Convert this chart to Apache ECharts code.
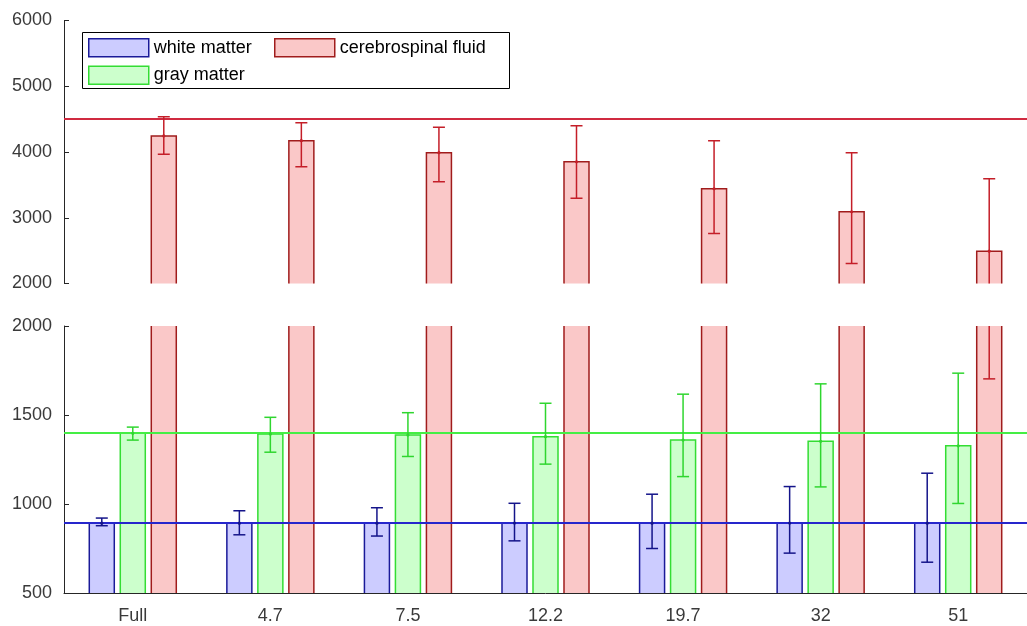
<!DOCTYPE html>
<html>
<head>
<meta charset="utf-8">
<title>Tissue values by level</title>
<script src="https://cdn.jsdelivr.net/npm/echarts@6/dist/echarts.min.js"></script>
<style>
  html, body { margin: 0; padding: 0; background: #ffffff; }
  #chart { width: 1027px; height: 626px; }
</style>
</head>
<body>
<div id="chart"></div>
<script>
// Group labels along the x axis
const categories = ['Full', '4.7', '7.5', '12.2', '19.7', '32', '51'];

// White matter: bar height and error-bar ends
const wmMean = [892, 892, 892, 893, 892, 893, 892];
const wmLow  = [878, 827, 820, 793, 750, 724, 673];
const wmHigh = [921, 962, 979, 1004, 1055, 1098, 1173];

// Gray matter
const gmMean = [1397, 1393, 1388, 1378, 1359, 1352, 1327];
const gmLow  = [1359, 1291, 1267, 1224, 1154, 1096, 1003];
const gmHigh = [1432, 1487, 1513, 1566, 1617, 1675, 1735];

// Cerebrospinal fluid
const csfMean = [4244, 4172, 3989, 3852, 3441, 3091, 2492];
const csfLow  = [3965, 3776, 3548, 3295, 2762, 2305, 1703];
const csfHigh = [4538, 4446, 4376, 4401, 4172, 3989, 3593];

// Reference levels drawn as horizontal lines
const wmReference = 892;
const gmReference = 1400;
const csfReference = 4510;

// Broken y axis: upper and lower value ranges [min, max, step]
const upperRange = [2000, 6000, 1000];
const lowerRange = [500, 2000, 500];

const FONT = '"Liberation Sans", Arial, sans-serif';
const AXIS_COLOR = '#262626';
const LABEL_COLOR = '#3a3a3a';
const BAR_W = 25;
const BAR_GAP = 0.24;
const STEP = BAR_W * (1 + BAR_GAP);

const styles = {
  wm:  { fill: '#ccccff', edge: '#1a1a99', err: '#14148a', ref: '#2626cc' },
  gm:  { fill: '#ccffcc', edge: '#33dd33', err: '#2fd62f', ref: '#44ee44' },
  csf: { fill: '#fac8c8', edge: '#a01c1c', err: '#c41e28', ref: '#d02a40' }
};

// Filled bars (no outline: outlines come from the edge series so that
// the broken axis cuts them open instead of closing them at the axis limits)
function barSeries(name, axis, values, st, ref) {
  const s = {
    type: 'bar',
    name: name,
    xAxisIndex: axis,
    yAxisIndex: axis,
    data: values,
    barWidth: BAR_W,
    barGap: (BAR_GAP * 100) + '%',
    clip: true,
    silent: true,
    z: 2,
    itemStyle: { color: st.fill, borderWidth: 0 }
  };
  if (ref !== null) {
    s.markLine = {
      silent: true,
      symbol: 'none',
      label: { show: false },
      lineStyle: { color: st.ref, width: 2, type: 'solid' },
      data: [{ yAxis: ref }]
    };
  }
  return s;
}

// Bar outlines running from the value down to zero, clipped by the panel
function edgeSeries(name, axis, slot, values, st) {
  return {
    type: 'custom',
    name: name,
    xAxisIndex: axis,
    yAxisIndex: axis,
    clip: true,
    silent: true,
    z: 3,
    data: categories.map((c, i) => [i, values[i]]),
    encode: { x: 0, y: 1 },
    renderItem: function (params, api) {
      const i = api.value(0);
      const top = api.coord([i, api.value(1)]);
      const base = api.coord([i, 0]);
      const x = top[0] + slot * STEP - BAR_W / 2;
      return {
        type: 'rect',
        shape: { x: x, y: top[1], width: BAR_W, height: base[1] - top[1] },
        style: { fill: null, stroke: st.edge, lineWidth: 1.5 }
      };
    }
  };
}

function errorSeries(name, axis, slot, low, high, mean, st) {
  return {
    type: 'custom',
    name: name,
    xAxisIndex: axis,
    yAxisIndex: axis,
    clip: true,
    z: 6,
    silent: true,
    data: categories.map((c, i) => [i, low[i], high[i], mean[i]]),
    encode: { x: 0, y: [1, 2] },
    renderItem: function (params, api) {
      const i = api.value(0);
      const lo = api.coord([i, api.value(1)]);
      const hi = api.coord([i, api.value(2)]);
      const md = api.coord([i, api.value(3)]);
      const x = lo[0] + slot * STEP;
      const cap = 6;
      const ls = { stroke: st.err, lineWidth: 1.5, fill: null };
      return {
        type: 'group',
        children: [
          { type: 'line', shape: { x1: x, y1: lo[1], x2: x, y2: hi[1] }, style: ls },
          { type: 'line', shape: { x1: x - cap, y1: lo[1], x2: x + cap, y2: lo[1] }, style: ls },
          { type: 'line', shape: { x1: x - cap, y1: hi[1], x2: x + cap, y2: hi[1] }, style: ls },
          { type: 'circle', shape: { cx: x, cy: md[1], r: 1.6 }, style: { fill: st.err } }
        ]
      };
    }
  };
}

const series = [];
// upper panel (axis index 0)
series.push(barSeries('white matter', 0, wmMean, styles.wm, null));
series.push(barSeries('gray matter', 0, gmMean, styles.gm, null));
series.push(barSeries('cerebrospinal fluid', 0, csfMean, styles.csf, csfReference));
// lower panel (axis index 1)
series.push(barSeries('white matter', 1, wmMean, styles.wm, wmReference));
series.push(barSeries('gray matter', 1, gmMean, styles.gm, gmReference));
series.push(barSeries('cerebrospinal fluid', 1, csfMean, styles.csf, null));
// outlines and error bars in both panels
[0, 1].forEach(function (ax) {
  series.push(edgeSeries('white matter', ax, -1, wmMean, styles.wm));
  series.push(edgeSeries('gray matter', ax, 0, gmMean, styles.gm));
  series.push(edgeSeries('cerebrospinal fluid', ax, 1, csfMean, styles.csf));
  series.push(errorSeries('white matter', ax, -1, wmLow, wmHigh, wmMean, styles.wm));
  series.push(errorSeries('gray matter', ax, 0, gmLow, gmHigh, gmMean, styles.gm));
  series.push(errorSeries('cerebrospinal fluid', ax, 1, csfLow, csfHigh, csfMean, styles.csf));
});

function valueAxis(grid, range) {
  return {
    type: 'value',
    gridIndex: grid,
    min: range[0],
    max: range[1],
    interval: range[2],
    axisLine: { show: true, lineStyle: { color: AXIS_COLOR, width: 1 } },
    axisTick: { show: true, inside: true, length: 5, lineStyle: { color: AXIS_COLOR } },
    axisLabel: {
      color: LABEL_COLOR, fontSize: 18, fontFamily: FONT, margin: 12,
      formatter: function (v) { return String(v); }
    },
    splitLine: { show: false }
  };
}

const legendText = { fontSize: 18, color: '#000', fontFamily: FONT };
function legendItem(name, st) {
  return { name: name, itemStyle: { color: st.fill, borderColor: st.edge, borderWidth: 1.5 } };
}

const option = {
  animation: false,
  backgroundColor: '#ffffff',
  grid: [
    { left: 64, top: 20.5, width: 972, height: 263 },
    { left: 64, top: 326, width: 972, height: 267 }
  ],
  xAxis: [
    {
      type: 'category', gridIndex: 0, data: categories,
      axisLine: { show: false }, axisTick: { show: false }, axisLabel: { show: false }
    },
    {
      type: 'category', gridIndex: 1, data: categories,
      axisLine: { show: true, lineStyle: { color: AXIS_COLOR, width: 1 } },
      axisTick: { show: true, inside: true, alignWithLabel: true, length: 5, lineStyle: { color: AXIS_COLOR } },
      axisLabel: { color: LABEL_COLOR, fontSize: 18, fontFamily: FONT, margin: 14 }
    }
  ],
  yAxis: [valueAxis(0, upperRange), valueAxis(1, lowerRange)],
  graphic: [
    {
      type: 'rect',
      z: 3,
      silent: true,
      shape: { x: 82.5, y: 32.5, width: 427, height: 56 },
      style: { fill: '#ffffff', stroke: '#000000', lineWidth: 1 }
    }
  ],
  legend: [
    {
      data: [legendItem('white matter', styles.wm), legendItem('gray matter', styles.gm)],
      orient: 'vertical',
      left: 88, top: 38, padding: 0,
      itemWidth: 60, itemHeight: 18, itemGap: 8,
      icon: 'rect', selectedMode: false, z: 10,
      textStyle: legendText
    },
    {
      data: [legendItem('cerebrospinal fluid', styles.csf)],
      orient: 'vertical',
      left: 274, top: 38, padding: 0,
      itemWidth: 60, itemHeight: 18, itemGap: 8,
      icon: 'rect', selectedMode: false, z: 10,
      textStyle: legendText
    }
  ],
  series: series
};

const chart = echarts.init(document.getElementById('chart'), null, { renderer: 'canvas' });
chart.setOption(option);
</script>
</body>
</html>
